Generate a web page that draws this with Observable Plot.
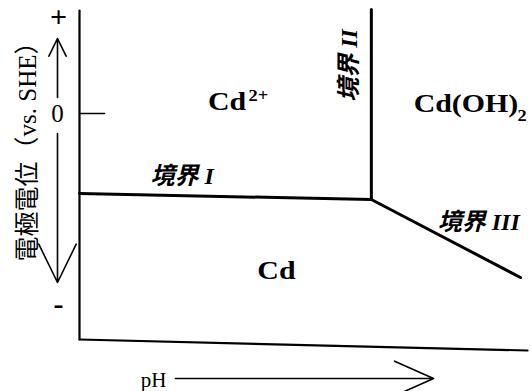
<!DOCTYPE html>
<html>
<head>
<meta charset="utf-8">
<script src="https://cdn.jsdelivr.net/npm/d3@7"></script>
<script src="https://cdn.jsdelivr.net/npm/@observablehq/plot@0.6"></script>
<style>
  html, body { margin: 0; padding: 0; background: #fff; }
  svg { display: block; }
</style>
</head>
<body>
<div id="chart"></div>
<script>
// Pourbaix (potential–pH) diagram for cadmium, schematic.
// pH along x, electrode potential (V vs. SHE) along y.

// Axis frame
const yAxisLine = [{pH: 0, E: 0.515}, {pH: 0, E: -1.13}];
const xAxisLine = [{pH: 0, E: -1.13}, {pH: 13.97, E: -1.185}];
const zeroTick = [{pH: 0, E: 0}, {pH: 0.78, E: 0}];

// Phase boundaries
const boundaryI = [{pH: 0, E: -0.40}, {pH: 9.1, E: -0.43}];      // Cd2+ / Cd
const boundaryII = [{pH: 9.1, E: -0.43}, {pH: 9.1, E: 0.52}];    // Cd2+ / Cd(OH)2
const boundaryIII = [{pH: 9.1, E: -0.43}, {pH: 13.75, E: -0.82}]; // Cd(OH)2 / Cd

// Region species
const species = [
  {text: "Cd", pH: 4.6, E: 0.06},
  {text: "Cd(OH)", pH: 12.05, E: 0.05},
  {text: "Cd", pH: 6.14, E: -0.785}
];
const scripts = [
  {text: "2+", pH: 5.58, E: 0.088},
  {text: "2", pH: 13.8, E: -0.01}
];

// Boundary names
const boundaryLabels = [
  {text: "境界 I", pH: 3.2, E: -0.315, rotate: 0},
  {text: "境界 II", pH: 8.4, E: 0.24, rotate: -90},
  {text: "境界 III", pH: 12.45, E: -0.545, rotate: 0}
];

// Potential direction markers on the left
const signLabels = [
  {text: "+", E: 0.48},
  {text: "-", E: -0.955}
];
const zeroLabel = ["0"];
const potentialArrows = [
  {E1: 0.08, E2: 0.375},
  {E1: -0.10, E2: -0.845}
];
const yTitle = "電極電位（vs. SHE）";
const xTitle = "pH";
const pHArrow = [{pH1: 2.99, pH2: 11.04, E: -1.325}];

const serif = "'Liberation Serif', 'Times New Roman', 'Noto Sans CJK JP', serif";

const chart = Plot.plot({
  width: 531,
  height: 391,
  marginLeft: 79,
  marginRight: 3,
  marginTop: 8,
  marginBottom: 41,
  x: {domain: [0, 14], axis: null},
  y: {domain: [-1.185, 0.525], axis: null},
  style: {background: "#fff", fontFamily: serif},
  marks: [
    Plot.line(yAxisLine, {x: "pH", y: "E", stroke: "#000", strokeWidth: 2.2}),
    Plot.line(xAxisLine, {x: "pH", y: "E", stroke: "#000", strokeWidth: 2.2}),
    Plot.line(zeroTick, {x: "pH", y: "E", stroke: "#000", strokeWidth: 1.5}),
    Plot.line(boundaryI, {x: "pH", y: "E", stroke: "#000", strokeWidth: 3}),
    Plot.line(boundaryII, {x: "pH", y: "E", stroke: "#000", strokeWidth: 3}),
    Plot.line(boundaryIII, {x: "pH", y: "E", stroke: "#000", strokeWidth: 3}),
    Plot.text(species, {x: "pH", y: "E", text: "text", fontSize: 26, fontWeight: "bold", fill: "#000", ariaDescription: "wide"}),
    Plot.text(scripts, {x: "pH", y: "E", text: "text", fontSize: 16, fontWeight: "bold", fill: "#000", ariaDescription: "wide"}),
    Plot.text(boundaryLabels, {x: "pH", y: "E", text: "text", rotate: "rotate", fontSize: 24, fontWeight: "bold", fontStyle: "italic", fill: "#000"}),
    Plot.text(signLabels, {x: 0, y: "E", text: "text", dx: -21, fontSize: 30, fontWeight: "bold", fill: "#000"}),
    Plot.text(zeroLabel, {x: 0, y: 0, text: d => d, dx: -22, fontSize: 25, fill: "#000"}),
    Plot.arrow(potentialArrows, {x1: 0, x2: 0, y1: "E1", y2: "E2", dx: -22, stroke: "#000", strokeWidth: 1.6, headAngle: 52, headLength: 40}),
    Plot.text([yTitle], {x: -1.62, y: -0.16, text: d => d, rotate: -90, fontSize: 25, fill: "#000"}),
    Plot.text([xTitle], {x: 2.31, y: -1.335, text: d => d, fontSize: 21, fill: "#000"}),
    Plot.arrow(pHArrow, {x1: "pH1", x2: "pH2", y1: "E", y2: "E", stroke: "#000", strokeWidth: 1.6, headAngle: 48, headLength: 40})
  ]
});

// The species names are set in a broad, heavy face: widen them about their anchors.
d3.select(chart).selectAll("g[aria-description=wide] text").each(function() {
  const t = this.getAttribute("transform") || "";
  this.setAttribute("transform", t + " scale(1.15,1)");
});

document.getElementById("chart").appendChild(chart);
</script>
</body>
</html>
